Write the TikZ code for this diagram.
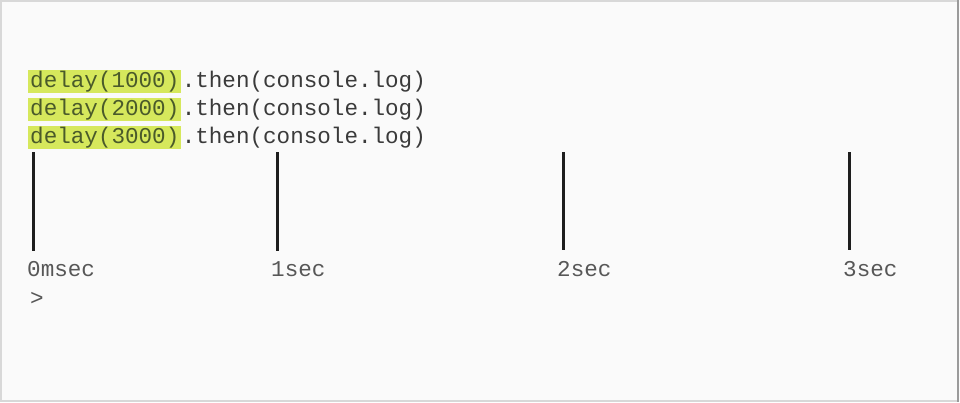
\documentclass[tikz,border=0pt]{standalone}
\usepackage{fontspec}
\setmonofont{Liberation Mono}
\definecolor{bgc}{HTML}{FAFAFA}
\definecolor{framec}{HTML}{D8D8D8}
\definecolor{edgec}{HTML}{9A9A9A}
\definecolor{hlc}{HTML}{D6E85C}
\definecolor{codec}{HTML}{3A3A3A}
\definecolor{hltext}{HTML}{4A5A2A}
\definecolor{tickc}{HTML}{1E1E1E}
\begin{document}
\begin{tikzpicture}[x=1pt,y=-1pt,
  code/.style={font=\ttfamily\fontsize{22.6}{26}\selectfont, text=codec, inner sep=0pt, anchor=base west},
  hl/.style={code, fill=hlc, text=hltext, inner xsep=2pt, inner ysep=0pt, text height=17pt, text depth=6pt},
  tick/.style={draw=tickc, line width=3pt},
  lbl/.style={code, text=codec!85}]
\useasboundingbox (0,0) rectangle (960,402);
\fill[bgc] (0,0) rectangle (960,402);
\draw[framec, line width=2pt] (959,1) -- (1,1) -- (1,401) -- (959,401);
\draw[edgec, line width=2pt] (958,0) -- (958,402);
% code lines
\node[hl] (h1) at (28,87) {delay(1000)};
\node[code] (t1) at (h1.base east) {.then(console.log)};
\node[hl] (h2) at (28,115) {delay(2000)};
\node[code] (t2) at (h2.base east) {.then(console.log)};
\node[hl] (h3) at (28,143) {delay(3000)};
\node[code] (t3) at (h3.base east) {.then(console.log)};
% ticks
\coordinate (a0) at (33,152); \coordinate (b0) at (33,251);
\coordinate (a1) at (277,152); \coordinate (b1) at (277,251);
\coordinate (a2) at (563,152); \coordinate (b2) at (563,250);
\coordinate (a3) at (849,152); \coordinate (b3) at (849,250);
\draw[tick] (a0) -- (b0);
\draw[tick] (a1) -- (b1);
\draw[tick] (a2) -- (b2);
\draw[tick] (a3) -- (b3);
% labels
\node[lbl] (l0) at (27,276) {0msec};
\node[lbl] (l1) at (271,276) {1sec};
\node[lbl] (l2) at (557,276) {2sec};
\node[lbl] (l3) at (843,276) {3sec};
\node[lbl] (prompt) at (30,305) {>};
\end{tikzpicture}
\end{document}
